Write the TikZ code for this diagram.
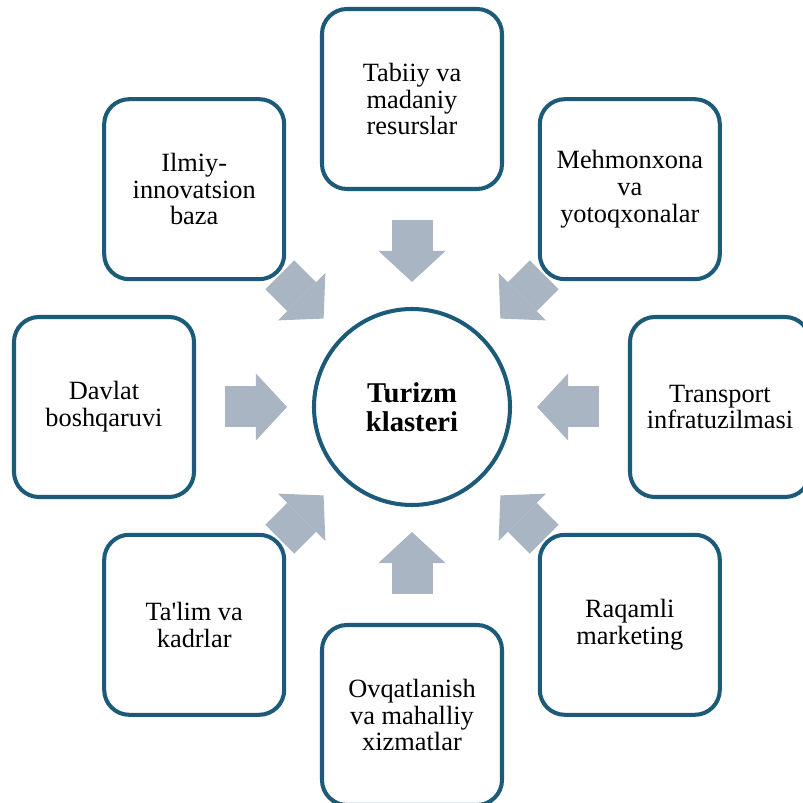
\documentclass[tikz,border=0pt]{standalone}
\usepackage{fontspec}
\setmainfont{Liberation Serif}
\usetikzlibrary{arrows.meta}
\definecolor{boxblue}{HTML}{1B5A78}
\definecolor{arrowgray}{HTML}{A9B5C2}

\begin{document}
\begin{tikzpicture}[cluster_box/.style={draw=boxblue,line width=2.3pt,rounded corners=0.5cm,fill=white,minimum width=3.6cm,minimum height=3.6cm,align=center,inner sep=2pt,font=\fontsize{15}{15.2}\selectfont},
  cluster_core/.style={circle,draw=boxblue,line width=2.3pt,minimum size=3.92cm,align=center,font=\fontsize{16.3}{16.5}\selectfont\bfseries},
  flow/.style={draw=arrowgray,line width=0.82cm,-{Triangle[length=0.62cm,width=1.34cm,line width=0pt]},shorten <=2.42cm,shorten >=0.5cm}]

    \useasboundingbox (-8.24,-7.92) rectangle (7.82,8.14);

    \node[cluster_core] (klaster) at (0,0) {Turizm\\klasteri};

    \node[cluster_box] (tabiiy) at (0,6.16) {Tabiiy va\\madaniy\\resurslar};
    \node[cluster_box] (mehmonxona) at (4.356,4.356) {Mehmonxona\\va\\yotoqxonalar};
    \node[cluster_box] (transport) at (6.16,0) {Transport\\infratuzilmasi};
    \node[cluster_box] (marketing) at (4.356,-4.356) {Raqamli\\marketing};
    \node[cluster_box] (ovqat) at (0,-6.16) {Ovqatlanish\\va mahalliy\\xizmatlar};
    \node[cluster_box] (talim) at (-4.356,-4.356) {Ta\textquotesingle lim va\\kadrlar};
    \node[cluster_box] (davlat) at (-6.16,0) {Davlat\\boshqaruvi};
    \node[cluster_box] (ilmiy) at (-4.356,4.356) {Ilmiy-\\innovatsion\\baza};

    % block arrows into the cluster
    \draw[flow] (tabiiy.center) -- (klaster);
    \draw[flow] (mehmonxona.center) -- (klaster);
    \draw[flow] (transport.center) -- (klaster);
    \draw[flow] (marketing.center) -- (klaster);
    \draw[flow] (ovqat.center) -- (klaster);
    \draw[flow] (talim.center) -- (klaster);
    \draw[flow] (davlat.center) -- (klaster);
    \draw[flow] (ilmiy.center) -- (klaster);
\end{tikzpicture}
\end{document}
